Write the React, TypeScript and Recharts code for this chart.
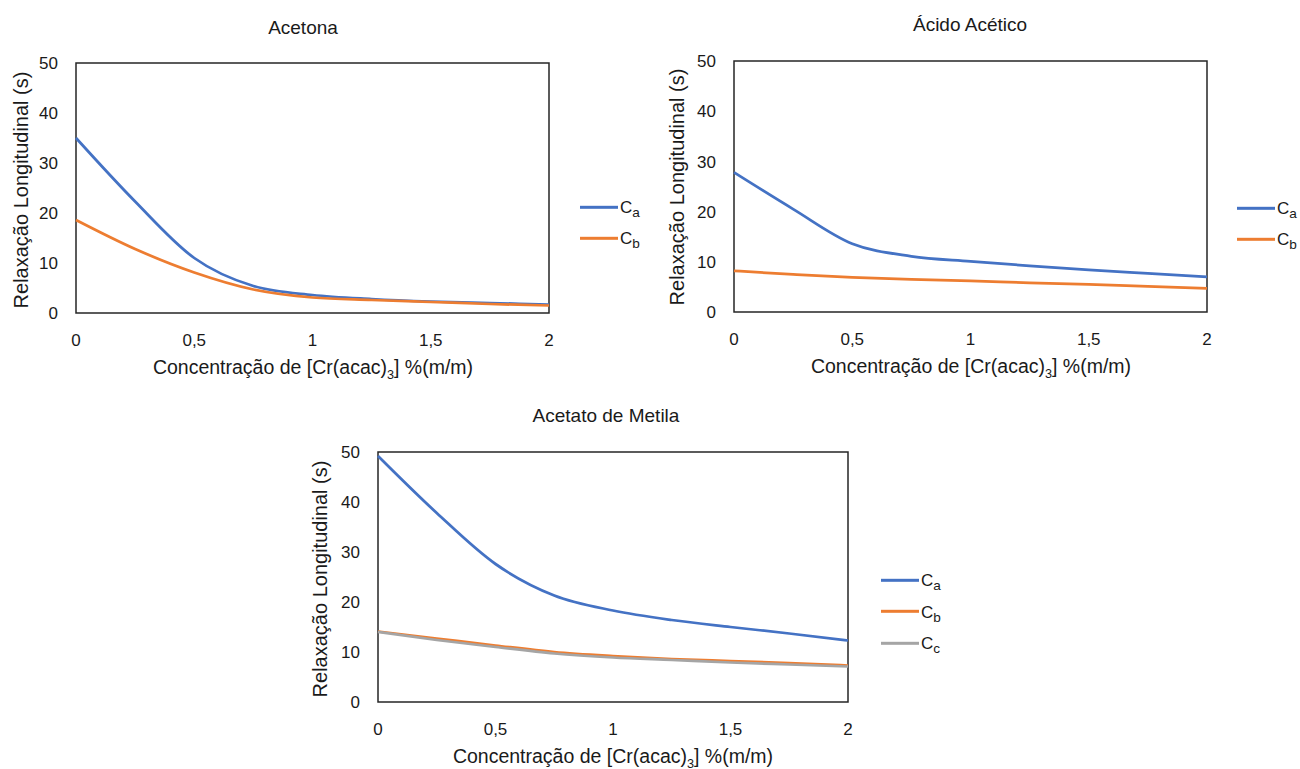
import React from "react"
import { LineChart, Line, XAxis, YAxis, ReferenceArea } from "recharts"

// valores
const concentracoes = [0, 0.25, 0.5, 0.75, 1, 1.25, 1.5, 1.75, 2]
const xTicks = [0, 0.5, 1, 1.5, 2]
const yTicks = [0, 10, 20, 30, 40, 50]

const acetonaCa = [35, 22.3, 11, 5.4, 3.6, 2.8, 2.3, 2.0, 1.7]
const acetonaCb = [18.6, 12.8, 8.1, 4.7, 3.1, 2.6, 2.2, 1.8, 1.5]

const acidoCa = [27.8, 20.5, 13.6, 11.1, 10.1, 9.2, 8.4, 7.7, 7.0]
const acidoCb = [8.2, 7.5, 6.9, 6.5, 6.2, 5.8, 5.5, 5.1, 4.7]

const metilaCa = [49.2, 37.8, 27.6, 21.3, 18.3, 16.4, 15.0, 13.7, 12.3]
const metilaCb = [14.1, 12.7, 11.3, 10.0, 9.2, 8.6, 8.2, 7.8, 7.3]
const metilaCc = [14.0, 12.4, 11.0, 9.7, 8.9, 8.4, 7.9, 7.5, 7.1]

const BLUE = "#4472C4"
const ORANGE = "#ED7D31"
const GRAY = "#A5A5A5"

const FONT = "'Liberation Sans', Arial, sans-serif"
const TEXT = "#1a1a1a"
const TICK_SIZE = 17

type Serie = { key: string; sub: string; color: string; values: number[] }

const buildData = (series: Serie[]) =>
  concentracoes.map((x, i) => {
    const row: any = { x }
    series.forEach((s) => (row[s.key] = s.values[i]))
    return row
  })

const fmt = (v: number) => String(v).replace(".", ",")

// ticks desenhados à mão para controlar a fonte
const XTick = ({ x, y, payload }: any) => (
  <text x={x} y={y} dy="0.72em" textAnchor="middle" fill={TEXT} fontSize={TICK_SIZE} fontFamily={FONT}>
    {fmt(payload.value)}
  </text>
)
const YTick = ({ x, y, payload }: any) => (
  <text x={x} y={y} dy="0.36em" textAnchor="end" fill={TEXT} fontSize={TICK_SIZE} fontFamily={FONT}>
    {payload.value}
  </text>
)

type PanelProps = {
  title: string
  series: Serie[]
  plot: { l: number; t: number; r: number; b: number }
  titleAt: [number, number]
  xLabelAt: [number, number]
  yLabelAt: [number, number]
  legendAt: [number, number]
  legendGap: number
}

const Panel = ({ title, series, plot, titleAt, xLabelAt, yLabelAt, legendAt, legendGap }: PanelProps) => {
  const yAxisW = 45
  const xAxisH = 40
  const boxLeft = plot.l - yAxisW - 10
  const boxTop = plot.t - 10
  const width = plot.r - boxLeft + 10
  const height = plot.b - boxTop + xAxisH + 10
  return (
    <>
      <div style={{ position: "absolute", left: boxLeft, top: boxTop }}>
        <LineChart
          width={width}
          height={height}
          data={buildData(series)}
          margin={{ top: 10, right: 10, bottom: 10, left: 10 }}
        >
          <XAxis
            dataKey="x"
            type="number"
            domain={[0, 2]}
            ticks={xTicks}
            axisLine={false}
            tickLine={false}
            tickSize={0}
            tickMargin={21}
            height={xAxisH}
            tick={<XTick />}
          />
          <YAxis
            type="number"
            domain={[0, 50]}
            ticks={yTicks}
            axisLine={false}
            tickLine={false}
            tickSize={0}
            tickMargin={18}
            width={yAxisW}
            tick={<YTick />}
          />
          <ReferenceArea x1={0} x2={2} y1={0} y2={50} fill="none" stroke="#262626" strokeWidth={1.5} />
          {series.map((s) => (
            <Line
              key={s.key}
              type="monotone"
              dataKey={s.key}
              stroke={s.color}
              strokeWidth={2.75}
              dot={false}
              isAnimationActive={false}
            />
          ))}
        </LineChart>
      </div>

      {/* título */}
      <div
        style={{
          position: "absolute", left: titleAt[0], top: titleAt[1], transform: "translate(-50%, -50%)",
          fontFamily: FONT, fontSize: 19, color: TEXT, whiteSpace: "nowrap",
        }}
      >
        {title}
      </div>

      {/* eixo x */}
      <div
        style={{
          position: "absolute", left: xLabelAt[0], top: xLabelAt[1], transform: "translate(-50%, -50%)",
          fontFamily: FONT, fontSize: 19.5, color: TEXT, whiteSpace: "nowrap",
        }}
      >
        Concentração de [Cr(acac)<sub style={{ fontSize: "0.65em" }}>3</sub>] %(m/m)
      </div>

      {/* eixo y */}
      <div
        style={{
          position: "absolute", left: yLabelAt[0], top: yLabelAt[1],
          transform: "translate(-50%, -50%) rotate(-90deg)",
          fontFamily: FONT, fontSize: 20, color: TEXT, whiteSpace: "nowrap",
        }}
      >
        Relaxação Longitudinal (s)
      </div>

      {/* legenda */}
      <div style={{ position: "absolute", left: legendAt[0], top: legendAt[1] }}>
        {series.map((s, i) => (
          <div
            key={s.key}
            style={{
              position: "absolute", left: 0, top: i * legendGap, transform: "translateY(-50%)",
              display: "flex", alignItems: "center", whiteSpace: "nowrap",
            }}
          >
            <span style={{ display: "inline-block", width: 38, height: 2.75, background: s.color }} />
            <span style={{ fontFamily: FONT, fontSize: 17, color: TEXT, marginLeft: 2, position: "relative", top: 2 }}>
              C<sub style={{ fontSize: "0.8em" }}>{s.sub}</sub>
            </span>
          </div>
        ))}
      </div>
    </>
  )
}

const App = () => {
  return (
    <div style={{ position: "absolute", left: 0, top: 0, width: 1300, height: 769, background: "#fff" }}>
      <Panel
        title="Acetona"
        series={[
          { key: "ca", sub: "a", color: BLUE, values: acetonaCa },
          { key: "cb", sub: "b", color: ORANGE, values: acetonaCb },
        ]}
        plot={{ l: 76, t: 63, r: 549, b: 313 }}
        titleAt={[303, 28]}
        xLabelAt={[313, 369]}
        yLabelAt={[21, 190]}
        legendAt={[580, 207]}
        legendGap={31}
      />
      <Panel
        title="Ácido Acético"
        series={[
          { key: "ca", sub: "a", color: BLUE, values: acidoCa },
          { key: "cb", sub: "b", color: ORANGE, values: acidoCb },
        ]}
        plot={{ l: 734, t: 61, r: 1207, b: 312 }}
        titleAt={[970, 25]}
        xLabelAt={[971, 368]}
        yLabelAt={[677, 187]}
        legendAt={[1237, 208]}
        legendGap={31}
      />
      <Panel
        title="Acetato de Metila"
        series={[
          { key: "ca", sub: "a", color: BLUE, values: metilaCa },
          { key: "cb", sub: "b", color: ORANGE, values: metilaCb },
          { key: "cc", sub: "c", color: GRAY, values: metilaCc },
        ]}
        plot={{ l: 378, t: 452, r: 848, b: 702 }}
        titleAt={[606, 416]}
        xLabelAt={[613, 758]}
        yLabelAt={[320, 579]}
        legendAt={[881, 580]}
        legendGap={31.5}
      />
    </div>
  )
}

export default App
